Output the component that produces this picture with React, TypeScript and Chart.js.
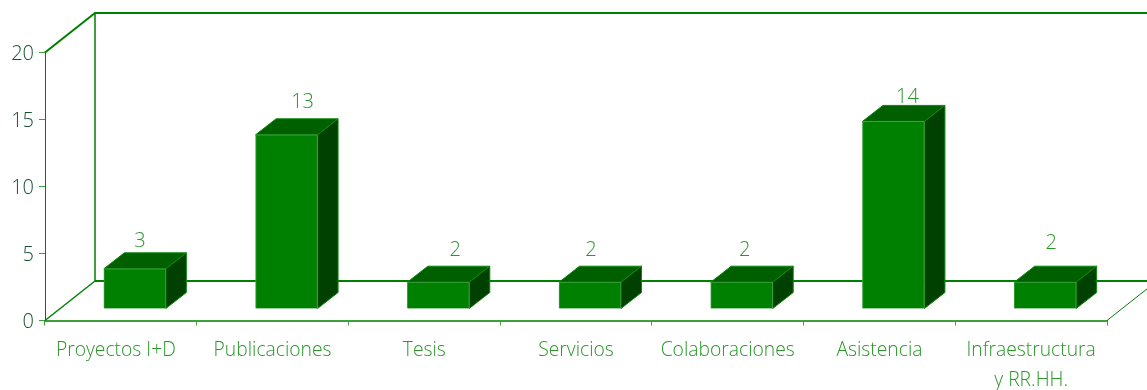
import React, { useEffect, useRef } from "react";
import { Chart, registerables } from "chart.js";

Chart.register(...registerables);

const categories = [
  "Proyectos I+D",
  "Publicaciones",
  "Tesis",
  "Servicios",
  "Colaboraciones",
  "Asistencia",
  ["Infraestructura", "y RR.HH."],
];
const values = [3, 13, 2, 2, 2, 14, 2];
const yTicks = [0, 5, 10, 15, 20];

// Value-label nudges relative to the bar's front-top centre (the source places them loosely)
const labelNudgeX = [5, 16, 17, 1, 3, 14, 6];
const labelNudgeY = [-28, -33, -32, -32, -32, -24, -39];

const DEPTH_X = 50;
const DEPTH_Y = 39.5;
const BAR_SHIFT_X = 14;
const BAR_SHIFT_Y = 11.5;
const BAR_DX = 20.5;
const BAR_DY = 16;
const FONT = '"Open Sans"';

const box3d = {
  id: "box3d",
  beforeDatasetsDraw(chart: any) {
    const { ctx, chartArea: a } = chart;
    ctx.save();
    ctx.strokeStyle = "#008000";
    ctx.lineWidth = 2;
    ctx.beginPath();
    ctx.moveTo(a.left, a.top);
    ctx.lineTo(a.left + DEPTH_X, a.top - DEPTH_Y);
    ctx.lineTo(chart.width + 2, a.top - DEPTH_Y);
    ctx.stroke();
    ctx.lineWidth = 1.5;
    ctx.beginPath();
    ctx.moveTo(a.left + DEPTH_X, a.top - DEPTH_Y);
    ctx.lineTo(a.left + DEPTH_X, a.bottom - DEPTH_Y);
    ctx.lineTo(a.left, a.bottom);
    ctx.stroke();
    ctx.lineWidth = 2;
    ctx.beginPath();
    ctx.moveTo(a.left + DEPTH_X, a.bottom - DEPTH_Y);
    ctx.lineTo(chart.width + 2, a.bottom - DEPTH_Y);
    ctx.stroke();
    ctx.lineWidth = 1;
    ctx.beginPath();
    ctx.moveTo(a.right, a.bottom);
    ctx.lineTo(a.right + DEPTH_X, a.bottom - DEPTH_Y);
    ctx.stroke();

    // value labels go under the bars (the 14 is partly hidden by its bar)
    const meta = chart.getDatasetMeta(0);
    ctx.fillStyle = "#2a962a";
    ctx.font = `300 20px ${FONT}`;
    ctx.textAlign = "center";
    ctx.textBaseline = "middle";
    meta.data.forEach((bar: any, i: number) => {
      ctx.fillText(
        String(values[i]),
        bar.x + BAR_SHIFT_X + labelNudgeX[i],
        bar.y - BAR_SHIFT_Y + labelNudgeY[i]
      );
    });

    // side and top faces, taken from the bar elements
    meta.data.forEach((bar: any) => {
      const half = bar.width / 2;
      const l = bar.x - half + BAR_SHIFT_X;
      const r = bar.x + half + BAR_SHIFT_X;
      const t = bar.y - BAR_SHIFT_Y;
      const b = bar.base - BAR_SHIFT_Y;
      ctx.lineWidth = 1;
      ctx.strokeStyle = "#0a880a";
      ctx.fillStyle = "#006000";
      ctx.beginPath();
      ctx.moveTo(l, t);
      ctx.lineTo(l + BAR_DX, t - BAR_DY);
      ctx.lineTo(r + BAR_DX, t - BAR_DY);
      ctx.lineTo(r, t);
      ctx.closePath();
      ctx.fill();
      ctx.stroke();
      ctx.fillStyle = "#004000";
      ctx.beginPath();
      ctx.moveTo(r, t);
      ctx.lineTo(r + BAR_DX, t - BAR_DY);
      ctx.lineTo(r + BAR_DX, b - BAR_DY);
      ctx.lineTo(r, b);
      ctx.closePath();
      ctx.fill();
      ctx.stroke();
    });
    ctx.restore();

    // the front faces are Chart.js's own bars, moved onto the floor
    ctx.save();
    ctx.translate(BAR_SHIFT_X, -BAR_SHIFT_Y);
  },
  afterDatasetsDraw(chart: any) {
    chart.ctx.restore();
  },
};

export default function App() {
  const ref = useRef<HTMLCanvasElement | null>(null);
  useEffect(() => {
    const chart = new Chart(ref.current as HTMLCanvasElement, {
      type: "bar",
      data: {
        labels: categories as any,
        datasets: [
          {
            data: values,
            backgroundColor: "#008000",
            borderColor: "#3da03d",
            borderWidth: 1,
            barThickness: 62,
            clip: false as any,
          },
        ],
      },
      plugins: [box3d],
      options: {
        animation: false,
        responsive: false,
        layout: { padding: { left: 0, right: 40, top: 52.5, bottom: 0 } },
        plugins: { legend: { display: false }, tooltip: { enabled: false } },
        scales: {
          x: {
            border: { color: "#3da03d", width: 2 },
            grid: { drawOnChartArea: false, drawTicks: true, tickLength: 5, color: "#3da03d", lineWidth: 1 },
            afterFit(scale: any) {
              scale.height = 69.5;
            },
            ticks: {
              color: "#2a962a",
              font: { family: FONT, size: 19.3, weight: "300" as any, lineHeight: 1.55 },
              maxRotation: 0,
              autoSkip: false,
              padding: 10.5,
              // the first label sits left of its slot in the source
              callback(this: any, _v: any, i: number) {
                const label = categories[i];
                return i === 0 ? `${label}  ` : label;
              },
            },
          },
          y: {
            min: 0,
            max: 20,
            afterBuildTicks(scale: any) {
              scale.ticks = yTicks.map((value) => ({ value }));
            },
            afterFit(scale: any) {
              scale.width = 45;
            },
            border: { color: "#008000", width: 1 },
            grid: { drawOnChartArea: false, tickLength: 6, color: "#3da03d" },
            ticks: {
              color: "#174f2c",
              font: { family: FONT, size: 20, weight: "300" as any },
              padding: 5,
              labelOffset: 2,
            },
          },
        },
      },
    });
    return () => chart.destroy();
  }, []);
  return (
    <div style={{ position: "fixed", left: 0, top: 0, width: 1147, height: 390, background: "#fff" }}>
      <canvas ref={ref} width={1147} height={390} style={{ display: "block" }} />
    </div>
  );
}
